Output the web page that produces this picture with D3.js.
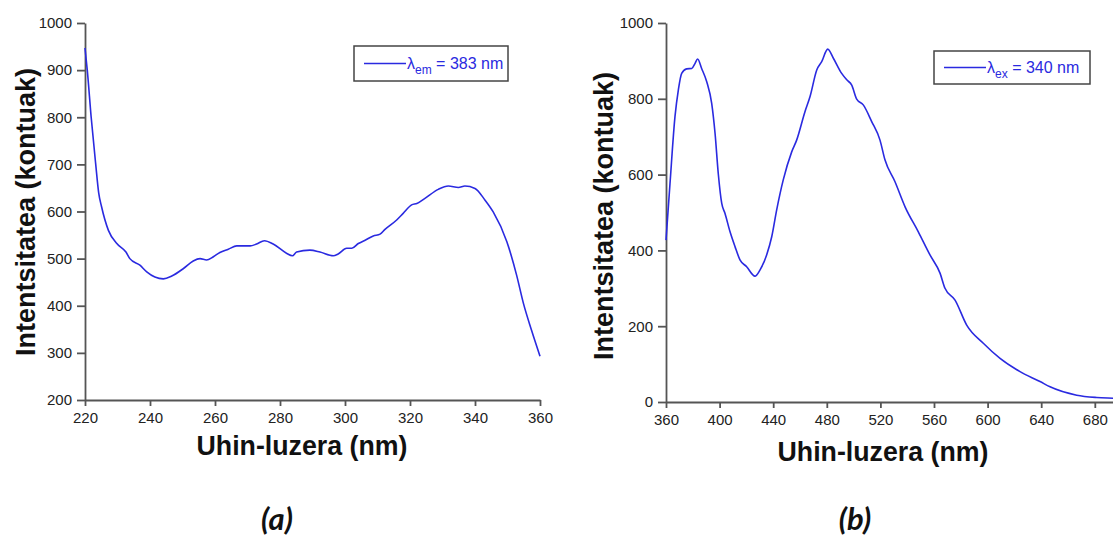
<!DOCTYPE html>
<html>
<head>
<meta charset="utf-8">
<script src="https://cdn.jsdelivr.net/npm/d3@7"></script>
<style>
  body { margin: 0; background: #fff; }
  svg { display: block; }
  .tick text { font-family: "Liberation Sans", Arial, sans-serif; font-size: 15px; fill: #222; }
  .axis path, .axis line { stroke: #555; stroke-width: 1.8; }
  .title { font-family: "Liberation Sans", Arial, sans-serif; font-weight: bold; font-size: 27px; fill: #111; }
  .panel { font-family: Lato, "Open Sans", sans-serif; font-weight: bold; font-style: italic; font-size: 31px; fill: #111; }
  .legend text { font-family: "Liberation Sans", Arial, sans-serif; font-size: 16px; fill: #2a2ae0; }
</style>
</head>
<body>
<div id="chart"></div>
<script>
// (a) excitation spectrum, emission at 383 nm
const waveA = [220, 220.7, 221.9, 223.3, 224.2, 225.1, 227.2, 229.8, 232.6, 233.8, 236.9, 239, 241.5, 244.1,
  246.7, 250.3, 253.3, 255.4, 257.4, 259.5, 261.5, 264.1, 266.7, 270.8, 272.8, 275.2, 277.9, 282.1, 283.8,
  285.1, 289.2, 292.3, 296.4, 297.9, 300.5, 302.1, 304.1, 306.2, 308.7, 310.8, 312.3, 315.9, 317.9, 320.5,
  322.1, 324.6, 328.7, 331.8, 334.9, 336.9, 340, 343.1, 345.6, 349.8, 352.8, 354.9, 357.4, 360];
const intA = [947, 900, 800, 700, 640, 610, 560, 532, 514, 500, 486, 472, 461, 457,
  463, 479, 495, 500, 497, 504, 513, 520, 527, 527, 531, 538, 531, 511, 506,
  514, 518, 514, 506, 510, 522, 522, 532, 539, 548, 552, 562, 582, 596, 614,
  617, 628, 647, 654, 651, 654, 649, 624, 599, 536, 465, 405, 348, 293];

// (b) emission spectrum, excitation at 340 nm
const waveB = [360, 363, 366.7, 369.2, 371.7, 375.4, 379.2, 381.6, 383.6, 386.6, 390.4, 394.1, 396.6, 399,
  401.6, 404, 407.8, 411.5, 415.2, 420.2, 426.4, 430.1, 435.1, 438.9, 442.6, 447.5, 453.8, 457.5, 463.7,
  467.5, 472.5, 476.2, 480.7, 484.9, 491.1, 494.9, 498.6, 502.3, 507.2, 513.5, 519.7, 523.4, 530.9, 538.4,
  548.3, 557, 564.5, 568.2, 575.7, 584.4, 596.8, 609.3, 624.2, 639.1, 646.6, 666.5, 681.4, 693.6, 700];
const intB = [427, 577, 753, 823, 867, 879, 880, 893, 905, 880, 845, 788, 709, 603,
  524, 498, 449, 410, 375, 357, 332, 348, 388, 436, 507, 586, 660, 691, 766,
  806, 876, 898, 931, 907, 867, 850, 836, 799, 784, 740, 691, 639, 581, 515,
  449, 388, 340, 300, 269, 203, 155, 115, 80, 54, 40, 18, 12, 10, 9];

const ticksXA = [220, 240, 260, 280, 300, 320, 340, 360];
const ticksYA = [200, 300, 400, 500, 600, 700, 800, 900, 1000];
const ticksXB = [360, 400, 440, 480, 520, 560, 600, 640, 680];
const ticksYB = [0, 200, 400, 600, 800, 1000];

const lineColor = "#2a2ae0";

let svg = d3.select("#chart")
  .append("svg")
    .attr("width", 1113)
    .attr("height", 536);

function drawPanel(opt) {
  let g = svg.append("g");
  let x = d3.scaleLinear().domain(opt.xDomain).range(opt.xRange);
  let y = d3.scaleLinear().domain(opt.yDomain).range(opt.yRange);

  g.append("g")
    .attr("class", "axis")
    .attr("transform", "translate(0," + opt.yRange[0] + ")")
    .call(d3.axisBottom(x).tickValues(opt.xTicks).tickFormat(d3.format("d"))
      .tickSize(6).tickPadding(6).tickSizeOuter(0));

  g.append("g")
    .attr("class", "axis")
    .attr("transform", "translate(" + opt.xRange[0] + ",0)")
    .call(d3.axisLeft(y).tickValues(opt.yTicks).tickFormat(d3.format("d"))
      .tickSize(8).tickPadding(5).tickSizeOuter(0));

  let pts = opt.wave.map((w, i) => [w, opt.vals[i]]);
  g.append("path")
    .datum(pts)
    .attr("fill", "none")
    .attr("stroke", lineColor)
    .attr("stroke-width", 1.6)
    .attr("stroke-linejoin", "round")
    .attr("d", d3.line().curve(d3.curveMonotoneX).x(d => x(d[0])).y(d => y(d[1])));

  // axis titles
  g.append("text")
    .attr("class", "title")
    .attr("text-anchor", "middle")
    .attr("transform", "translate(" + opt.yTitleX + "," + opt.yTitleY + ") rotate(-90)")
    .text("Intentsitatea (kontuak)");
  g.append("text")
    .attr("class", "title")
    .attr("text-anchor", "middle")
    .attr("x", opt.xTitleX)
    .attr("y", opt.xTitleY)
    .attr("textLength", 211)
    .attr("lengthAdjust", "spacingAndGlyphs")
    .text("Uhin-luzera (nm)");

  // legend
  let lg = g.append("g").attr("class", "legend");
  let b = opt.legendBox;
  lg.append("rect")
    .attr("x", b[0]).attr("y", b[1]).attr("width", b[2]).attr("height", b[3])
    .attr("fill", "#fff").attr("stroke", "#444").attr("stroke-width", 1.5);
  lg.append("line")
    .attr("x1", b[0] + 10).attr("x2", b[0] + 52)
    .attr("y1", b[1] + b[3] / 2).attr("y2", b[1] + b[3] / 2)
    .attr("stroke", lineColor).attr("stroke-width", 1.5);
  let t = lg.append("text").attr("x", b[0] + 53).attr("y", b[1] + b[3] / 2 + 5);
  t.append("tspan").text("λ");
  t.append("tspan").attr("dy", 5).style("font-size", "12px").text(opt.sub);
  t.append("tspan").attr("dy", -5).text(" = " + opt.legendNm + " nm");

  // panel label
  g.append("text")
    .attr("class", "panel")
    .attr("text-anchor", "middle")
    .attr("x", opt.panelX)
    .attr("y", 530)
    .text(opt.panel);
}

drawPanel({
  wave: waveA, vals: intA,
  xDomain: [220, 360], xRange: [85, 540],
  yDomain: [200, 1000], yRange: [400, 23],
  xTicks: ticksXA, yTicks: ticksYA,
  yTitleX: 35, yTitleY: 212,
  xTitleX: 302, xTitleY: 455,
  legendBox: [354, 46, 154, 35], sub: "em", legendNm: 383,
  panel: "(a)", panelX: 277
});

drawPanel({
  wave: waveB, vals: intB,
  xDomain: [360, 700], xRange: [666, 666 + 340 * 1.34],
  yDomain: [0, 1000], yRange: [402, 23],
  xTicks: ticksXB, yTicks: ticksYB,
  yTitleX: 613, yTitleY: 216,
  xTitleX: 883, xTitleY: 461,
  legendBox: [934, 51, 156, 33], sub: "ex", legendNm: 340,
  panel: "(b)", panelX: 855
});
</script>
</body>
</html>
